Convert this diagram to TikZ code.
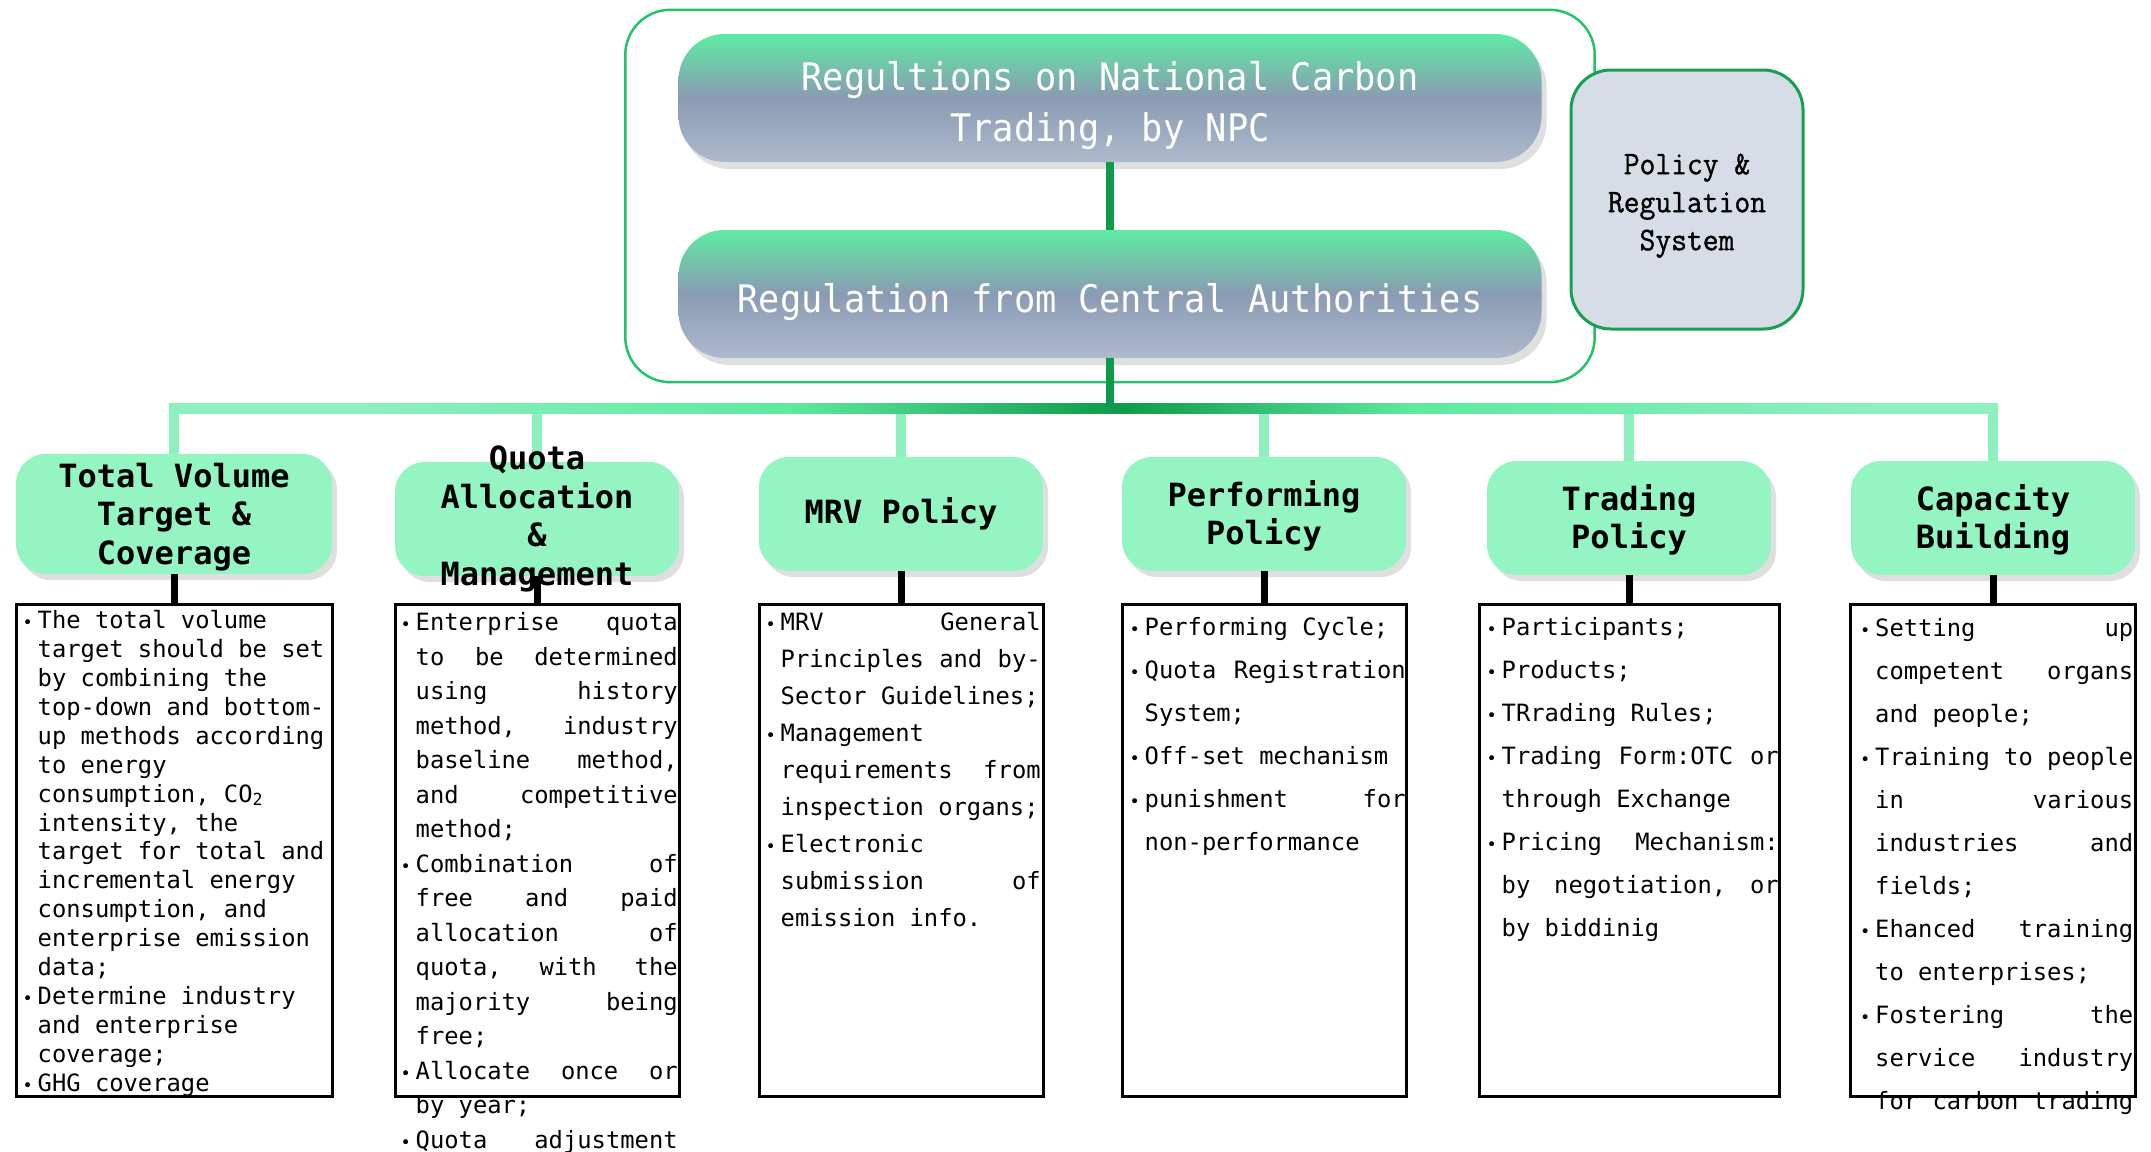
\documentclass[tikz,border=0pt]{standalone}
\usepackage{fontspec}
\setmonofont{DejaVu Sans Mono}
\newfontfamily\pillfont[FakeStretch=0.93]{DejaVu Sans Mono}
\newfontfamily\polfont[FakeStretch=0.93,FakeBold=1]{Latin Modern Mono}
\usetikzlibrary{positioning,fit,backgrounds,shadows}

\definecolor{pilltop}{HTML}{5EEBA3}
\definecolor{pillmid}{HTML}{8A9BB3}
\definecolor{pillbot}{HTML}{AEBACD}
\definecolor{headfill}{HTML}{94F5C2}
\definecolor{dropc}{HTML}{8EF0BF}
\definecolor{busmid}{HTML}{5DE9A0}
\definecolor{trunkc}{HTML}{10994C}
\definecolor{boxline}{HTML}{22C36B}
\definecolor{polfill}{HTML}{D6DDE7}
\definecolor{polline}{HTML}{17A04F}

\pgfdeclarehorizontalshading{bus}{100bp}{color(0bp)=(dropc); color(30bp)=(dropc);
  color(42bp)=(busmid); color(51bp)=(trunkc); color(59bp)=(busmid); color(72bp)=(dropc);
  color(100bp)=(dropc)}

\newlength{\linew}
\newcommand{\bul}{\rule{0pt}{20pt}\makebox[12pt][l]{\hspace{-3pt}{\fontsize{17}{17}\selectfont\textbullet}}}
\newcommand{\ind}{\hspace*{12pt}}
\newcommand{\jl}[1]{\makebox[\linew][l]{#1}}

\tikzset{
  sysbox/.style={draw=boxline, line width=2.5pt, fill=white, rounded corners=45pt},
  pill/.style={rounded corners=46pt, top color=pilltop, bottom color=pillbot, middle color=pillmid,
               minimum width=863pt, minimum height=128pt, text=white, align=center,
               font=\pillfont\fontsize{38}{51}\selectfont,
               drop shadow={shadow xshift=5pt, shadow yshift=-7pt, opacity=.25}},
  pol/.style={draw=polline, line width=3pt, fill=polfill, rounded corners=40pt,
              minimum width=232pt, minimum height=259pt, align=center,
              font=\polfont\fontsize{33}{38}\selectfont},
  headtext/.style={align=center, font=\ttfamily\bfseries\fontsize{32}{38.5}\selectfont},
  head/.style={rounded corners=30pt, fill=headfill, minimum width=284pt, minimum height=114pt,
               headtext, drop shadow={shadow xshift=5pt, shadow yshift=-6pt, opacity=.25}},
  textframe/.style={draw, line width=3pt, fill=white, minimum width=284pt, minimum height=492pt, inner sep=0pt},
  body/.style={font=\ttfamily\fontsize{23.8}{#1}\selectfont, align=left, inner sep=0pt},
  lw/.style={execute at begin node={\global\linew=#1}},
  feed/.style={draw=dropc, line width=10pt},
  trunk/.style={draw=trunkc, line width=8pt},
  link/.style={draw=black, line width=7pt}
}

\begin{document}
\begin{tikzpicture}[x=1pt,y=-1pt]
  \useasboundingbox (0,0) rectangle (2151,1151);

  % regulation system
  \node[pill] (npc) at (1110,98) {\rule{0pt}{45pt}Regultions on National Carbon\\Trading, by NPC};
  \node[pill] (cen) at (1110,294) {\rule{0pt}{45pt}Regulation from Central Authorities};
  \begin{scope}[on background layer]
    \node[sysbox, fit=(npc)(cen), inner xsep=53pt, inner ysep=24pt] (sys) {};
  \end{scope}
  \node[pol] (pol) at (1687,199.5) {\rule{0pt}{33pt}Policy \&\\Regulation\\System};

  \coordinate (hub) at (1110,408);
  \coordinate (bus) at (1110,405);
  \draw[trunk] (npc) -- (cen);

  % bus to the six policy areas
  \shade[shading=bus] (169,403) rectangle (1998,413);
  \draw[trunk] (cen) -- (hub);

  \node[head, minimum width=316pt] (h1) at (174,514) {\rule{0pt}{30pt}Total Volume\\Target \&\\Coverage};
  \node[head, label={[headtext]center:{Quota\\Allocation\\\&\\Management}}] (h2) at (537,519) {};
  \node[head] (h3) at (901,514) {MRV Policy};
  \node[head] (h4) at (1264,514) {\rule{0pt}{30pt}Performing\\Policy};
  \node[head] (h5) at (1629,518) {\rule{0pt}{30pt}Trading\\Policy};
  \node[head] (h6) at (1993,518) {\rule{0pt}{30pt}Capacity\\Building};

  \begin{scope}[on background layer]
    \draw[feed] (h1.north) -- (h1.north |- bus);
    \draw[feed] (h2.north) -- (h2.north |- bus);
    \draw[feed] (h3.north) -- (h3.north |- bus);
    \draw[feed] (h4.north) -- (h4.north |- bus);
    \draw[feed] (h5.north) -- (h5.north |- bus);
    \draw[feed] (h6.north) -- (h6.north |- bus);
  \end{scope}

  % detail boxes
  \node[textframe, minimum width=316pt] (f1) at (174,850) {};
  \node[textframe] (f2) at (537,850) {};
  \node[textframe] (f3) at (901,850) {};
  \node[textframe] (f4) at (1264,850) {};
  \node[textframe, minimum width=300pt] (f5) at (1629,850) {};
  \node[textframe, minimum width=285pt] (f6) at (1993,850) {};

  \draw[link] (h1.south) -- (f1.north);
  \draw[link] (h2.south) -- (f2.north);
  \draw[link] (h3.south) -- (f3.north);
  \draw[link] (h4.south) -- (f4.north);
  \draw[link] (h5.south) -- (f5.north);
  \draw[link] (h6.south) -- (f6.north);

  \node[body=28.9pt, below right=6pt and 11pt of f1.north west] (t1) {%
    \bul The total volume\\
    \ind target should be set\\
    \ind by combining the\\
    \ind top-down and bottom-\\
    \ind up methods according\\
    \ind to energy\\
    \ind consumption, CO\textsubscript{2}\\
    \ind intensity, the\\
    \ind target for total and\\
    \ind incremental energy\\
    \ind consumption, and\\
    \ind enterprise emission\\
    \ind data;\\
    \bul Determine industry\\
    \ind and enterprise\\
    \ind coverage;\\
    \bul GHG coverage};

  \node[body=34.5pt, lw=262pt, below right=8pt and 10pt of f2.north west] (t2) {%
    \bul\jl{Enterprise\hfill quota}\\
    \ind\jl{to\hfill be\hfill determined}\\
    \ind\jl{using\hfill history}\\
    \ind\jl{method,\hfill industry}\\
    \ind\jl{baseline\hfill method,}\\
    \ind\jl{and\hfill competitive}\\
    \ind method;\\
    \bul\jl{Combination\hfill of}\\
    \ind\jl{free\hfill and\hfill paid}\\
    \ind\jl{allocation\hfill of}\\
    \ind\jl{quota,\hfill with\hfill the}\\
    \ind\jl{majority\hfill being}\\
    \ind free;\\
    \bul\jl{Allocate\hfill once\hfill or}\\
    \ind by year;\\
    \bul\jl{Quota\hfill adjustment}};

  \node[body=37pt, lw=260pt, below right=8pt and 11pt of f3.north west] (t3) {%
    \bul\jl{MRV\hfill General}\\
    \ind\jl{Principles\hfill and\hfill by-}\\
    \ind Sector Guidelines;\\
    \bul Management\\
    \ind\jl{requirements\hfill from}\\
    \ind inspection organs;\\
    \bul Electronic\\
    \ind\jl{submission\hfill of}\\
    \ind emission info.};

  \node[body=43pt, lw=261pt, below right=13pt and 12pt of f4.north west] (t4) {%
    \bul Performing Cycle;\\
    \bul\jl{Quota\hfill Registration}\\
    \ind System;\\
    \bul Off-set mechanism\\
    \bul\jl{punishment\hfill for}\\
    \ind non-performance};

  \node[body=43pt, lw=277pt, below right=13pt and 12pt of f5.north west] (t5) {%
    \bul Participants;\\
    \bul Products;\\
    \bul TRrading Rules;\\
    \bul\jl{Trading\hfill Form:OTC\hfill or}\\
    \ind through Exchange\\
    \bul\jl{Pricing\hfill Mechanism:}\\
    \ind\jl{by\hfill negotiation,\hfill or}\\
    \ind by biddinig};

  \node[body=43pt, lw=258pt, below right=14pt and 14pt of f6.north west] (t6) {%
    \bul\jl{Setting\hfill up}\\
    \ind\jl{competent\hfill organs}\\
    \ind and people;\\
    \bul\jl{Training\hfill to\hfill people}\\
    \ind\jl{in\hfill various}\\
    \ind\jl{industries\hfill and}\\
    \ind fields;\\
    \bul\jl{Ehanced\hfill training}\\
    \ind to enterprises;\\
    \bul\jl{Fostering\hfill the}\\
    \ind\jl{service\hfill industry}\\
    \ind\jl{for\hfill carbon\hfill trading}};
\end{tikzpicture}
\end{document}
